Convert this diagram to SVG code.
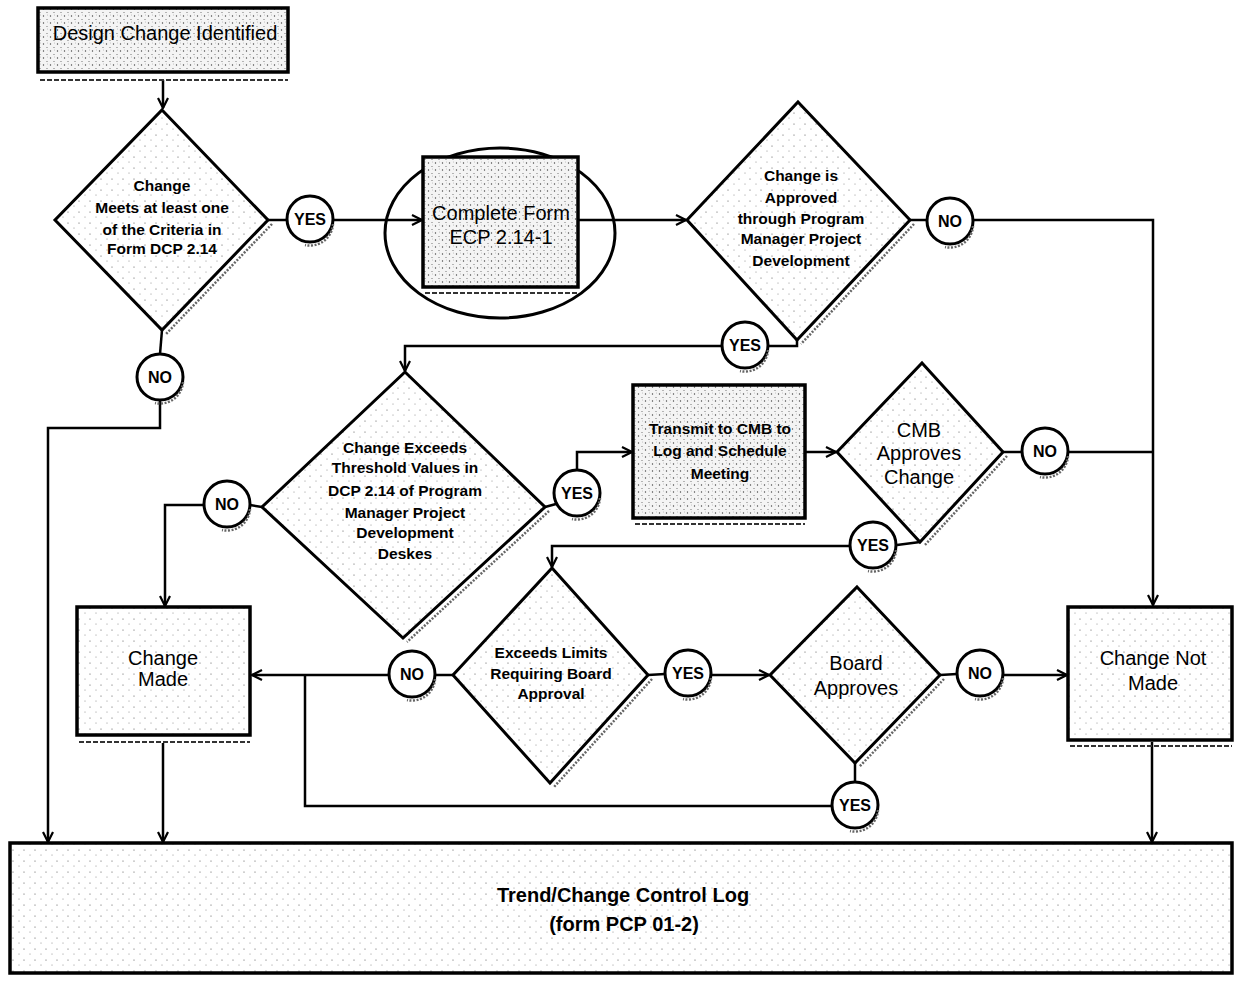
<svg xmlns="http://www.w3.org/2000/svg" width="1235" height="981" viewBox="0 0 1235 981">
<defs>
<style>
.ln{stroke:#000;stroke-width:2.5;fill:none}
.arr{marker-end:url(#ah)}
.box{stroke:#000;stroke-width:3.5;fill:url(#dots)}
.boxh{stroke:#000;stroke-width:3.5;fill:url(#dotsH)}
.dia{stroke:#000;stroke-width:3;fill:url(#dots)}
.cir{stroke:#000;stroke-width:3;fill:#fff}
.sh{stroke:#666;stroke-width:2.5;fill:none;stroke-dasharray:2 1.5}
.shl{stroke:#333;stroke-width:2;fill:none;stroke-dasharray:5 2}
.t{font-family:"Liberation Sans",Arial,sans-serif;fill:#000;text-anchor:middle}
.s{font-size:15.5px;font-weight:bold}
.b{font-size:20px}
.c{font-size:16px;font-weight:bold}
.lg{font-size:20px;font-weight:bold}
</style>
<pattern id="dots" width="11" height="11" patternUnits="userSpaceOnUse">
<rect width="11" height="11" fill="#fff"/>
<circle cx="2" cy="3" r="0.6" fill="#555"/>
<circle cx="8" cy="8" r="0.5" fill="#777"/>
</pattern>
<pattern id="dotsH" width="7" height="7" patternUnits="userSpaceOnUse">
<rect width="7" height="7" fill="#f4f4f4"/>
<circle cx="1.5" cy="2" r="0.7" fill="#444"/>
<circle cx="5" cy="5.5" r="0.6" fill="#666"/>
<circle cx="5.5" cy="1" r="0.4" fill="#888"/>
</pattern>
<marker id="ah" viewBox="0 0 12 12" refX="11" refY="6" markerWidth="12" markerHeight="12" markerUnits="userSpaceOnUse" orient="auto">
<path d="M1,1 L11,6 L1,11" fill="none" stroke="#000" stroke-width="2.2"/>
</marker>
</defs>
<rect width="1235" height="981" fill="#fff"/>

<g id="connectors">
<path class="ln arr" d="M163,80 L163,108"/>
<path class="ln" d="M268,220 L287,220"/>
<path class="ln arr" d="M333,220 L422,220"/>
<path class="ln arr" d="M578,220 L686,220"/>
<path class="ln" d="M910,220 L927,220"/>
<path class="ln arr" d="M973,220 L1153,220 L1153,605"/>
<path class="ln" d="M797,340 L797,346 L768,346"/>
<path class="ln arr" d="M722,346 L405,346 L405,371"/>
<path class="ln" d="M162,330 L160,354"/>
<path class="ln arr" d="M160,400 L160,428 L48,428 L48,842"/>
<path class="ln" d="M262,507 L250,505"/>
<path class="ln arr" d="M204,505 L165,505 L165,606"/>
<path class="ln" d="M545,507 L556,504"/>
<path class="ln arr" d="M577,470 L577,452 L632,452"/>
<path class="ln arr" d="M805,452 L836,452"/>
<path class="ln" d="M1003,452 L1022,452"/>
<path class="ln" d="M1068,452 L1153,452"/>
<path class="ln" d="M920,542 L897,545"/>
<path class="ln arr" d="M850,546 L552,546 L552,567"/>
<path class="ln" d="M453,675 L435,675"/>
<path class="ln arr" d="M389,675 L252,675"/>
<path class="ln" d="M648,675 L665,674"/>
<path class="ln arr" d="M711,675 L769,675"/>
<path class="ln" d="M940,675 L957,674"/>
<path class="ln arr" d="M1003,675 L1067,675"/>
<path class="ln" d="M855,763 L855,782"/>
<path class="ln" d="M832,806 L305,806 L305,675"/>
<path class="ln arr" d="M163,743 L163,842"/>
<path class="ln arr" d="M1152,742 L1152,842"/>
</g>

<g id="n_design">
<rect class="boxh" x="38" y="8" width="250" height="64"/>
<line class="shl" x1="40" y1="80" x2="288" y2="80"/>
<text class="t b" x="165" y="40">Design Change Identified</text>
</g>

<g id="n_criteria">
<polygon class="dia" points="162,110 268,220 162,330 55,220"/>
<path class="sh" d="M272,224 L166,334"/>
<text class="t s" x="162" y="191">Change</text>
<text class="t s" x="162" y="213">Meets at least one</text>
<text class="t s" x="162" y="235">of the Criteria in</text>
<text class="t s" x="162" y="254">Form DCP 2.14</text>
</g>

<g id="n_yes1">
<circle class="cir" cx="310" cy="219" r="23"/>
<path class="sh" d="M333,224 A23,23 0 0 1 305,245"/>
<text class="t c" x="310" y="225">YES</text>
</g>

<g id="n_no1">
<circle class="cir" cx="160" cy="377" r="23"/>
<path class="sh" d="M183,382 A23,23 0 0 1 155,403"/>
<text class="t c" x="160" y="383">NO</text>
</g>

<g id="n_form">
<ellipse cx="500" cy="233" rx="115" ry="85" fill="none" stroke="#000" stroke-width="3"/>
<rect class="boxh" x="423" y="157" width="155" height="130"/>
<line class="shl" x1="425" y1="293" x2="578" y2="293"/>
<text class="t b" x="501" y="220">Complete Form</text>
<text class="t b" x="501" y="244">ECP 2.14-1</text>
</g>

<g id="n_approved">
<polygon class="dia" points="798,102 910,220 797,340 687,220"/>
<path class="sh" d="M914,224 L801,344"/>
<text class="t s" x="801" y="181">Change is</text>
<text class="t s" x="801" y="203">Approved</text>
<text class="t s" x="801" y="224">through Program</text>
<text class="t s" x="801" y="244">Manager Project</text>
<text class="t s" x="801" y="266">Development</text>
</g>

<g id="n_no2">
<circle class="cir" cx="950" cy="221" r="23"/>
<path class="sh" d="M973,226 A23,23 0 0 1 945,247"/>
<text class="t c" x="950" y="227">NO</text>
</g>

<g id="n_yes2">
<circle class="cir" cx="745" cy="345" r="23"/>
<path class="sh" d="M768,350 A23,23 0 0 1 740,371"/>
<text class="t c" x="745" y="351">YES</text>
</g>

<g id="n_threshold">
<polygon class="dia" points="405,372 545,507 403,638 262,507"/>
<path class="sh" d="M549,511 L407,642"/>
<text class="t s" x="405" y="453">Change Exceeds</text>
<text class="t s" x="405" y="473">Threshold Values in</text>
<text class="t s" x="405" y="496">DCP 2.14 of Program</text>
<text class="t s" x="405" y="518">Manager Project</text>
<text class="t s" x="405" y="538">Development</text>
<text class="t s" x="405" y="559">Deskes</text>
</g>

<g id="n_no3">
<circle class="cir" cx="227" cy="504" r="23"/>
<path class="sh" d="M250,509 A23,23 0 0 1 222,530"/>
<text class="t c" x="227" y="510">NO</text>
</g>

<g id="n_yes3">
<circle class="cir" cx="577" cy="493" r="23"/>
<path class="sh" d="M600,498 A23,23 0 0 1 572,519"/>
<text class="t c" x="577" y="499">YES</text>
</g>

<g id="n_transmit">
<rect class="boxh" x="633" y="385" width="172" height="133"/>
<line class="shl" x1="635" y1="524" x2="805" y2="524"/>
<text class="t s" x="720" y="434">Transmit to CMB to</text>
<text class="t s" x="720" y="456">Log and Schedule</text>
<text class="t s" x="720" y="479">Meeting</text>
</g>

<g id="n_cmb">
<polygon class="dia" points="922,363 1003,452 920,542 837,452"/>
<path class="sh" d="M1007,456 L924,546"/>
<text class="t b" x="919" y="437">CMB</text>
<text class="t b" x="919" y="460">Approves</text>
<text class="t b" x="919" y="484">Change</text>
</g>

<g id="n_no4">
<circle class="cir" cx="1045" cy="451" r="23"/>
<path class="sh" d="M1068,456 A23,23 0 0 1 1040,477"/>
<text class="t c" x="1045" y="457">NO</text>
</g>

<g id="n_yes4">
<circle class="cir" cx="873" cy="545" r="23"/>
<path class="sh" d="M896,550 A23,23 0 0 1 868,571"/>
<text class="t c" x="873" y="551">YES</text>
</g>

<g id="n_limits">
<polygon class="dia" points="552,568 648,675 550,783 453,675"/>
<path class="sh" d="M652,679 L554,787"/>
<text class="t s" x="551" y="658">Exceeds Limits</text>
<text class="t s" x="551" y="679">Requiring Board</text>
<text class="t s" x="551" y="699">Approval</text>
</g>

<g id="n_no5">
<circle class="cir" cx="412" cy="674" r="23"/>
<path class="sh" d="M435,679 A23,23 0 0 1 407,700"/>
<text class="t c" x="412" y="680">NO</text>
</g>

<g id="n_yes5">
<circle class="cir" cx="688" cy="673" r="23"/>
<path class="sh" d="M711,678 A23,23 0 0 1 683,699"/>
<text class="t c" x="688" y="679">YES</text>
</g>

<g id="n_board">
<polygon class="dia" points="857,587 940,675 855,763 770,675"/>
<path class="sh" d="M944,679 L859,767"/>
<text class="t b" x="856" y="670">Board</text>
<text class="t b" x="856" y="695">Approves</text>
</g>

<g id="n_no6">
<circle class="cir" cx="980" cy="673" r="23"/>
<path class="sh" d="M1003,678 A23,23 0 0 1 975,699"/>
<text class="t c" x="980" y="679">NO</text>
</g>

<g id="n_yes6">
<circle class="cir" cx="855" cy="805" r="23"/>
<path class="sh" d="M878,810 A23,23 0 0 1 850,831"/>
<text class="t c" x="855" y="811">YES</text>
</g>

<g id="n_made">
<rect class="box" x="77" y="607" width="173" height="128"/>
<line class="shl" x1="79" y1="742" x2="250" y2="742"/>
<text class="t b" x="163" y="665">Change</text>
<text class="t b" x="163" y="686">Made</text>
</g>

<g id="n_notmade">
<rect class="box" x="1068" y="607" width="164" height="133"/>
<line class="shl" x1="1070" y1="746" x2="1232" y2="746"/>
<text class="t b" x="1153" y="665">Change Not</text>
<text class="t b" x="1153" y="690">Made</text>
</g>

<g id="n_log">
<rect class="box" x="10" y="843" width="1222" height="130"/>
<text class="t lg" x="623" y="902">Trend/Change Control Log</text>
<text class="t lg" x="624" y="931">(form PCP 01-2)</text>
</g>
</svg>
